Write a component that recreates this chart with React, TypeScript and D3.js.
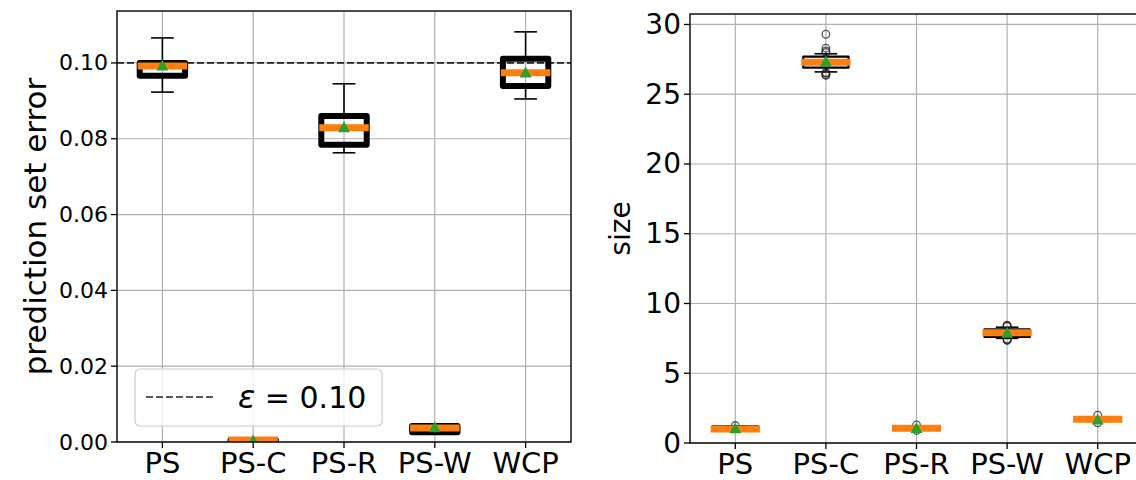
import React from 'react';
import * as d3 from 'd3';

const categories = ['PS', 'PS-C', 'PS-R', 'PS-W', 'WCP'];

// Left panel: prediction set error
const errWhiskerLow = [0.0923, 0.0, 0.0763, 0.0022, 0.0905];
const errQ1 = [0.0966, 0.0, 0.0784, 0.0026, 0.0939];
const errMedian = [0.0992, 0.0005, 0.0829, 0.0037, 0.0974];
const errQ3 = [0.1, 0.0005, 0.086, 0.0042, 0.1011];
const errWhiskerHigh = [0.1066, 0.0005, 0.0945, 0.0045, 0.1082];
const errMean = [0.0993, 0.0004, 0.083, 0.0039, 0.0975];
const epsilon = 0.1;
const errTicks = [0, 0.02, 0.04, 0.06, 0.08, 0.1];

// Right panel: size
const sizeWhiskerLow = [1.0, 26.6, 1.0, 7.5, 1.55];
const sizeQ1 = [1.0, 26.9, 1.0, 7.6, 1.6];
const sizeMedian = [1.0, 27.3, 1.05, 7.9, 1.7];
const sizeQ3 = [1.2, 27.7, 1.1, 8.15, 1.8];
const sizeWhiskerHigh = [1.2, 27.9, 1.1, 8.3, 1.85];
const sizeMean = [1.05, 27.35, 1.07, 7.9, 1.68];
const sizeOutliers = [
  [1.25],
  [29.3, 28.3, 28.1, 28.0, 26.55, 26.5, 26.4, 26.35],
  [1.3, 0.9],
  [8.45, 8.4, 8.35, 7.45, 7.4, 7.35],
  [2.0, 1.45],
];
const sizeTicks = [0, 5, 10, 15, 20, 25, 30];

const FONT = 'DejaVu Sans, sans-serif';
const GRID = '#b0b0b0';
const ORANGE = '#ff7f0e';
const GREEN = '#2ca02c';

type PanelProps = {
  id: string;
  x0: number; x1: number; y0: number; y1: number;
  yMax: number;
  ticks: number[];
  tickFmt: (v: number) => string;
  tickFont: number;
  yLabel: string;
  yLabelX: number;
  yLabelFont: number;
  wLow: number[]; q1: number[]; med: number[]; q3: number[]; wHigh: number[]; mean: number[];
  outliers?: number[][];
  boxStroke: number;
  children?: (y: d3.ScaleLinear<number, number>) => React.ReactNode;
};

function Panel(p: PanelProps) {
  const x = d3.scaleLinear().domain([0.5, 5.5]).range([p.x0, p.x1]);
  const y = d3.scaleLinear().domain([0, p.yMax]).range([p.y1, p.y0]);
  const boxW = 0.5;
  const capW = 0.25;
  const clipId = `clip-${p.id}`;
  return (
    <g>
      <defs>
        <clipPath id={clipId}>
          <rect x={p.x0} y={p.y0} width={p.x1 - p.x0} height={p.y1 - p.y0} />
        </clipPath>
      </defs>
      {/* grid */}
      <g stroke={GRID} strokeWidth={1.2}>
        {p.ticks.map((t) => (
          <line key={`gy${t}`} x1={p.x0} x2={p.x1} y1={y(t)} y2={y(t)} />
        ))}
        {categories.map((c, i) => (
          <line key={`gx${c}`} x1={x(i + 1)} x2={x(i + 1)} y1={p.y0} y2={p.y1} />
        ))}
      </g>
      <g clipPath={`url(#${clipId})`}>
        {p.children ? p.children(y) : null}
        {categories.map((c, i) => {
          const cx = x(i + 1);
          const bl = x(i + 1 - boxW / 2);
          const br = x(i + 1 + boxW / 2);
          const cl = x(i + 1 - capW / 2);
          const cr = x(i + 1 + capW / 2);
          return (
            <g key={c}>
              <line x1={cx} x2={cx} y1={y(p.q1[i])} y2={y(p.wLow[i])} stroke="#000" strokeWidth={1.6} />
              <line x1={cx} x2={cx} y1={y(p.q3[i])} y2={y(p.wHigh[i])} stroke="#000" strokeWidth={1.6} />
              <line x1={cl} x2={cr} y1={y(p.wLow[i])} y2={y(p.wLow[i])} stroke="#000" strokeWidth={1.6} />
              <line x1={cl} x2={cr} y1={y(p.wHigh[i])} y2={y(p.wHigh[i])} stroke="#000" strokeWidth={1.6} />
              <rect
                x={bl}
                y={y(p.q3[i])}
                width={br - bl}
                height={Math.max(0, y(p.q1[i]) - y(p.q3[i]))}
                fill="none"
                stroke="#000"
                strokeWidth={p.boxStroke}
                strokeLinejoin="round"
              />
              {(p.outliers ? p.outliers[i] : []).map((v, k) => (
                <circle key={k} cx={cx} cy={y(v)} r={3.8} fill="none" stroke="#222" strokeOpacity={0.75} strokeWidth={1.3} />
              ))}
              <line x1={bl - 2} x2={br + 2} y1={y(p.med[i])} y2={y(p.med[i])} stroke={ORANGE} strokeWidth={7} />
              <path
                d={`M${cx},${y(p.mean[i]) - 6} L${cx + 6},${y(p.mean[i]) + 5} L${cx - 6},${y(p.mean[i]) + 5} Z`}
                fill={GREEN}
              />
            </g>
          );
        })}
      </g>
      {/* spines */}
      <rect x={p.x0} y={p.y0} width={p.x1 - p.x0} height={p.y1 - p.y0} fill="none" stroke="#000" strokeWidth={1.4} />
      {/* y ticks */}
      {p.ticks.map((t) => (
        <g key={`ty${t}`}>
          <line x1={p.x0 - 6} x2={p.x0} y1={y(t)} y2={y(t)} stroke="#000" strokeWidth={1.3} />
          <text
            x={p.x0 - 9}
            y={y(t)}
            textAnchor="end"
            dominantBaseline="central"
            fontFamily={FONT}
            fontSize={p.tickFont}
          >
            {p.tickFmt(t)}
          </text>
        </g>
      ))}
      {/* x ticks */}
      {categories.map((c, i) => (
        <g key={`tx${c}`}>
          <line x1={x(i + 1)} x2={x(i + 1)} y1={p.y1} y2={p.y1 + 6} stroke="#000" strokeWidth={1.3} />
          <text x={x(i + 1)} y={p.y1 + 31} textAnchor="middle" fontFamily={FONT} fontSize={29}>
            {c}
          </text>
        </g>
      ))}
      <text
        transform={`translate(${p.yLabelX},${(p.y0 + p.y1) / 2}) rotate(-90)`}
        textAnchor="middle"
        dominantBaseline="central"
        fontFamily={FONT}
        fontSize={p.yLabelFont}
      >
        {p.yLabel}
      </text>
    </g>
  );
}

export default function App() {
  return (
    <svg width={1136} height={480} style={{ display: 'block', position: 'absolute', left: 0, top: 0 }}>
      <rect width={1136} height={480} fill="#fff" />
      <Panel
        id="err"
        x0={117} x1={571} y0={11} y1={442}
        yMax={0.1137}
        ticks={errTicks}
        tickFmt={(v) => v.toFixed(2)}
        tickFont={22}
        yLabel="prediction set error"
        yLabelX={35}
        yLabelFont={31}
        wLow={errWhiskerLow} q1={errQ1} med={errMedian} q3={errQ3} wHigh={errWhiskerHigh} mean={errMean}
        boxStroke={6}
      >
        {(y) => (
          <line x1={117} x2={571} y1={y(epsilon)} y2={y(epsilon)} stroke="#222" strokeWidth={1.7} strokeDasharray="7,3" />
        )}
      </Panel>
      <Panel
        id="size"
        x0={690} x1={1143} y0={14} y1={443}
        yMax={30.75}
        ticks={sizeTicks}
        tickFmt={(v) => String(v)}
        tickFont={28}
        yLabel="size"
        yLabelX={620}
        yLabelFont={28}
        wLow={sizeWhiskerLow} q1={sizeQ1} med={sizeMedian} q3={sizeQ3} wHigh={sizeWhiskerHigh} mean={sizeMean}
        outliers={sizeOutliers}
        boxStroke={2.2}
      />
      {/* legend */}
      <g>
        <rect x={135} y={369} width={247} height={57} rx={5} fill="#fff" fillOpacity={0.8} stroke="#ccc" strokeWidth={1.2} />
        <line x1={146} x2={213} y1={397} y2={397} stroke="#222" strokeWidth={1.7} strokeDasharray="7,3" />
        <text x={238} y={397} dominantBaseline="central" fontFamily={FONT} fontSize={30}>
          <tspan fontStyle="italic" fontSize={32}>ε</tspan>
          <tspan> = 0.10</tspan>
        </text>
      </g>
    </svg>
  );
}
